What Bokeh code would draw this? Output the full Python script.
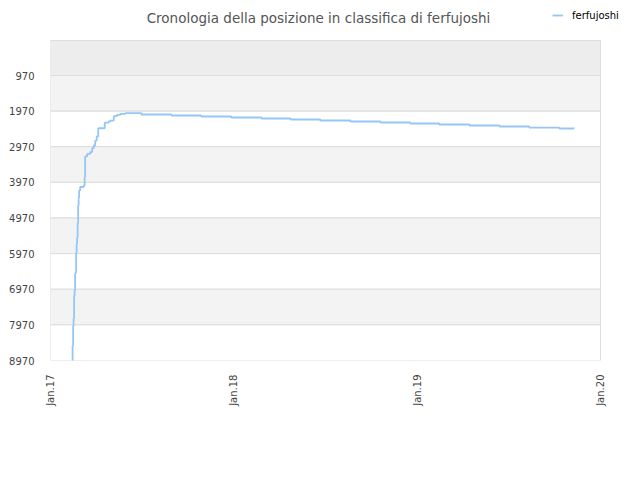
import math
import pandas as pd
from bokeh.plotting import figure
from bokeh.models import (Range1d, FixedTicker, BoxAnnotation, Legend, LegendItem, Label)
from bokeh.embed import file_html
from bokeh.resources import INLINE

# ---- data ----
dates = [
    "2017-02-13", "2017-02-14", "2017-02-15", "2017-02-16", "2017-02-17",
    "2017-02-18", "2017-02-19", "2017-02-20", "2017-02-21", "2017-02-22",
    "2017-02-23", "2017-02-24", "2017-02-25", "2017-02-26", "2017-02-27",
    "2017-03-01", "2017-03-08", "2017-03-10", "2017-03-11", "2017-03-15",
    "2017-03-21", "2017-03-25", "2017-03-28", "2017-03-31", "2017-04-03",
    "2017-04-06", "2017-04-19", "2017-04-27", "2017-04-30", "2017-05-07",
    "2017-05-13", "2017-05-20", "2017-05-30", "2017-07-01", "2017-08-30",
    "2017-10-28", "2017-12-27", "2018-02-25", "2018-04-24", "2018-06-22",
    "2018-08-21", "2018-10-20", "2018-12-18", "2019-02-14", "2019-04-15",
    "2019-06-14", "2019-08-12", "2019-10-11", "2019-11-10",
]
ranks = [
    8970, 8550, 8000, 7790, 7150,
    7000, 6530, 6500, 5940, 5700,
    5520, 5120, 4620, 4400, 4200,
    4100, 4060, 3820, 3240, 3170,
    3120, 3010, 2935, 2800, 2680,
    2450, 2290, 2260, 2235, 2110,
    2075, 2045, 2025, 2065, 2093,
    2121, 2149, 2177, 2205, 2233,
    2261, 2289, 2317, 2345, 2373,
    2401, 2430, 2458, 2458,
]
y_ticks = [970, 1970, 2970, 3970, 4970, 5970, 6970, 7970, 8970]
y_top = -13
x_tick_dates = ["2017-01-01", "2018-01-01", "2019-01-01", "2020-01-01"]
x_tick_labels = ["Jan.17", "Jan.18", "Jan.19", "Jan.20"]
series_name = "ferfujoshi"
title_text = "Cronologia della posizione in classifica di ferfujoshi"

def to_ms(s):
    return pd.Timestamp(s).value / 1e6

xs = [to_ms(d) for d in dates]
x_ticks = [to_ms(d) for d in x_tick_dates]

FONT = "DejaVu Sans"

# layout (pixels)
W, H = 632, 472
LEFT, BOTTOM = 50, 112
PLOT_W, PLOT_H = 550, 320          # the chart area proper
FRAME_W = W - LEFT                 # frame extends to the right edge
FRAME_H = H - BOTTOM               # and up to the top edge (room for title/legend)

x0, x1 = x_ticks[0], x_ticks[-1]
x_end = x0 + (x1 - x0) * FRAME_W / PLOT_W
y0, y1 = y_ticks[-1], y_top
y_end = y0 + (y1 - y0) * FRAME_H / PLOT_H

p = figure(width=W, height=H, output_backend="svg", toolbar_location=None,
           x_range=Range1d(x0, x_end), y_range=Range1d(y0, y_end),
           min_border_left=LEFT, min_border_right=0,
           min_border_top=0, min_border_bottom=BOTTOM)

p.background_fill_color = "white"
p.border_fill_color = "white"
p.outline_line_color = None
p.xgrid.grid_line_color = None
p.ygrid.grid_line_color = None

# plot-area bands, grid lines and border
edges = [y_top] + y_ticks
band_colors = ["#ededed", "#f3f3f3", "#ffffff", "#f3f3f3", "#ffffff",
               "#f3f3f3", "#ffffff", "#f3f3f3", "#ffffff"]
for lo, hi, c in zip(edges[:-1], edges[1:], band_colors):
    p.add_layout(BoxAnnotation(left=x0, right=x1, top=lo, bottom=hi,
                               fill_color=c, fill_alpha=1,
                               line_color="#dddddd", line_width=1, line_alpha=1,
                               level="underlay"))

r = p.step(xs, ranks, mode="after", line_color="#95c6f5", line_width=1.8)

# axes
p.yaxis.ticker = FixedTicker(ticks=y_ticks)
p.xaxis.ticker = FixedTicker(ticks=x_ticks)
p.xaxis.major_label_overrides = {int(t): l for t, l in zip(x_ticks, x_tick_labels)}
p.xaxis.major_label_orientation = math.pi / 2
for ax in (p.xaxis[0], p.yaxis[0]):
    ax.axis_line_color = None
    ax.major_tick_line_color = None
    ax.minor_tick_line_color = None
    ax.major_label_text_font = FONT
    ax.major_label_text_font_size = "10px"
    ax.major_label_text_color = "#444444"
p.yaxis.major_label_standoff = 10
p.xaxis.major_label_standoff = 8

# title
p.add_layout(Label(x=268, y=FRAME_H - 17, x_units="screen", y_units="screen",
                   text=title_text, text_align="center", text_baseline="alphabetic",
                   text_font=FONT, text_font_size="13.5px", text_color="#555555"))

# legend
legend = Legend(items=[LegendItem(label=series_name, renderers=[r])],
                location=(502, FRAME_H - 21), orientation="horizontal",
                background_fill_alpha=0, border_line_alpha=0,
                padding=0, margin=0, glyph_width=11, glyph_height=12,
                label_standoff=9, label_text_font=FONT, label_height=12,
                label_text_font_size="10px", label_text_color="#000000")
p.add_layout(legend, "center")

open("out.html", "w").write(file_html(p, INLINE))
